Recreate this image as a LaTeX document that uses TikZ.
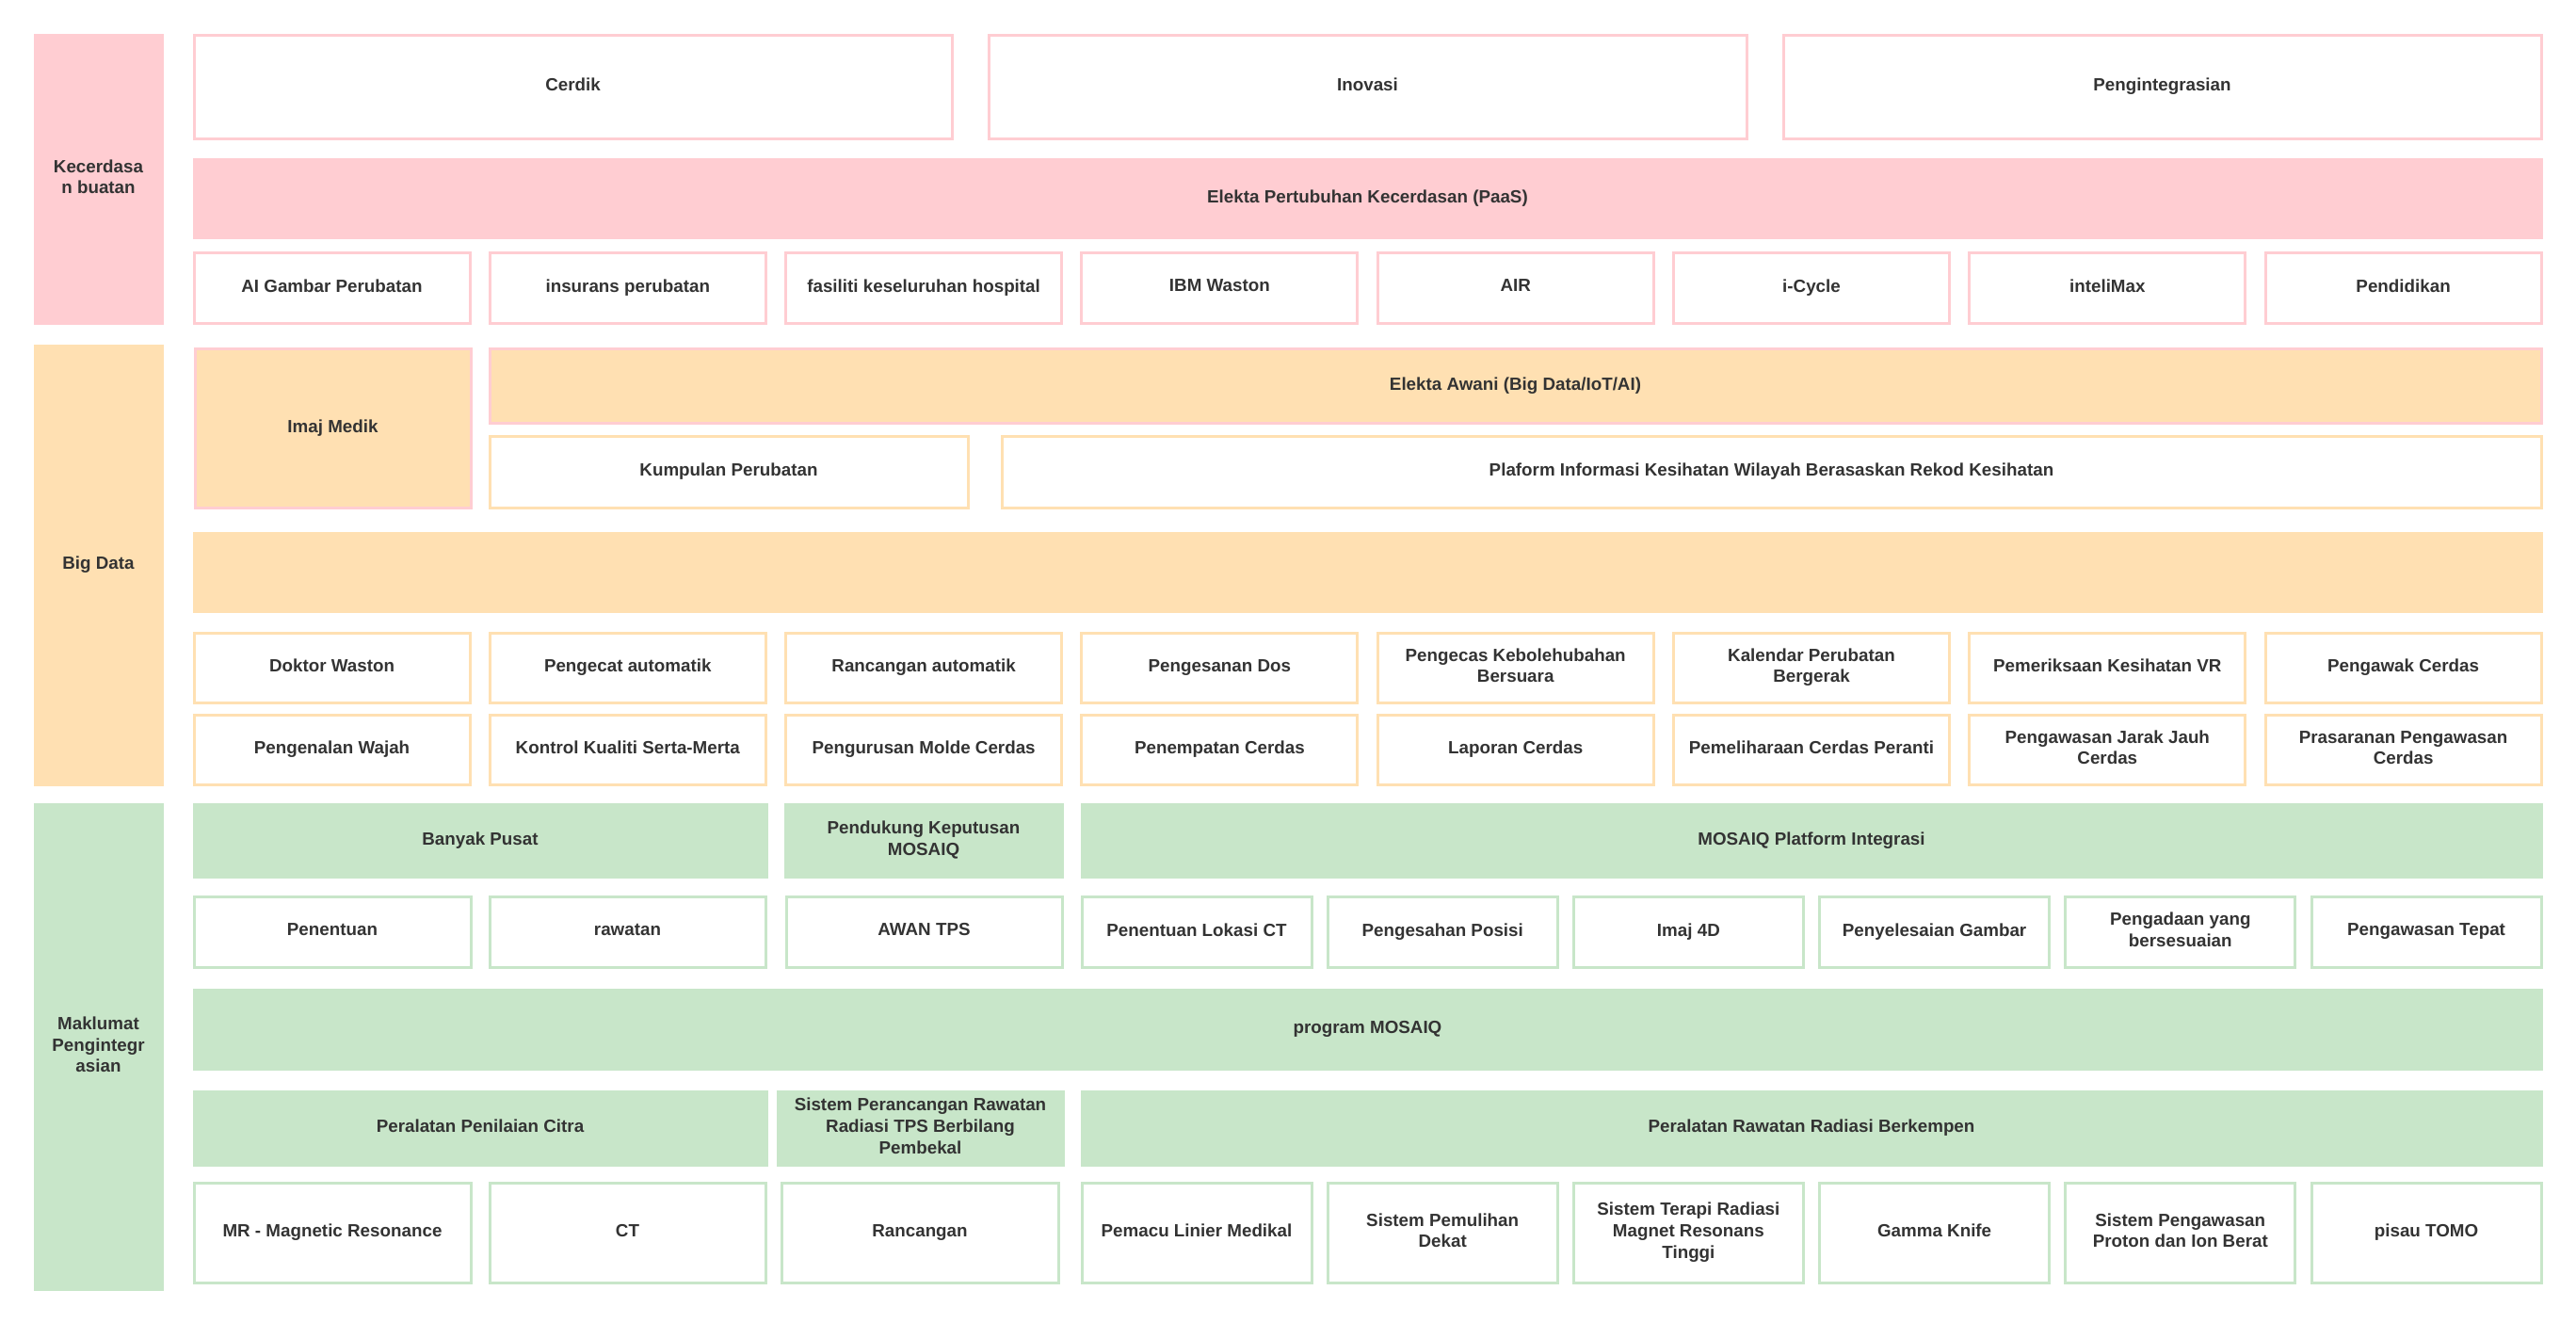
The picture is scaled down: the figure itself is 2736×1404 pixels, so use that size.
\documentclass[tikz,border=0pt]{standalone}
\usepackage{fontspec}
\setmainfont{Liberation Sans}
\definecolor{pk}{HTML}{FFCDD2}
\definecolor{og}{HTML}{FFE0B2}
\definecolor{gn}{HTML}{C8E6C9}
\definecolor{txt}{HTML}{333333}
\newcommand\mystrut{\rule[-2.3pt]{0pt}{9pt}}
\newcommand\bx[7]{%
  \node[#2, minimum width={((#5)-(#3))*0.5pt}, minimum height={((#6)-(#4))*0.5pt}]
    (#1) at ({((#3)+(#5))/2},{((#4)+(#6))/2}) {\mystrut#7\mystrut};}
\tikzset{
  base/.style={inner sep=0pt, outer sep=0pt, align=center, text=txt,
    font=\bfseries\fontsize{9.4}{11.3}\selectfont, line width=1.5pt},
  lab/.style={base, fill=#1, draw=#1},
  wb/.style={base, fill=white, draw=#1},
  fb/.style={base, fill=#1, draw=#1},
  ob/.style={base, fill=og, draw=pk},
}
\begin{document}
\begin{tikzpicture}[x=0.5pt,y=-0.5pt]
\fill[white] (0,0) rectangle (2736,1404);
\useasboundingbox (0,0) rectangle (2736,1404);
% ---------- Section 1: AI ----------
\bx{lab1}{lab=pk}{37}{37}{172}{343}{Kecerdasa\\n buatan}
\bx{cerdik}{wb=pk}{206}{37}{1011}{147}{Cerdik}
\bx{inovasi}{wb=pk}{1050}{37}{1855}{147}{Inovasi}
\bx{integ}{wb=pk}{1894}{37}{2699}{147}{Pengintegrasian}
\bx{paas}{fb=pk}{206}{169}{2699}{252}{Elekta Pertubuhan Kecerdasan (PaaS)}
\foreach \t [count=\i from 0] in {AI Gambar Perubatan, insurans perubatan, fasiliti keseluruhan hospital, IBM Waston, AIR, i-Cycle, inteliMax, Pendidikan}{
  \pgfmathsetmacro\xa{206+314.3*\i}
  \bx{a\i}{wb=pk}{\xa}{268}{\xa+293}{343}{\t}
}
% ---------- Section 2: Big Data ----------
\bx{lab2}{lab=og}{37}{367}{172}{833}{Big Data}
\bx{imaj}{ob}{207}{370}{500}{539}{Imaj Medik}
\bx{awani}{ob}{520}{370}{2699}{449}{Elekta Awani (Big Data/IoT/AI)}
\bx{kump}{wb=og}{520}{463}{1028}{539}{Kumpulan Perubatan}
\bx{plaf}{wb=og}{1064}{463}{2699}{539}{Plaform Informasi Kesihatan Wilayah Berasaskan Rekod Kesihatan}
\bx{bar}{fb=og}{206}{566}{2699}{649}{}
\foreach \t [count=\i from 0] in {Doktor Waston, Pengecat automatik, Rancangan automatik, Pengesanan Dos, {Pengecas Kebolehubahan\\Bersuara}, {Kalendar Perubatan\\Bergerak}, Pemeriksaan Kesihatan VR, Pengawak Cerdas}{
  \pgfmathsetmacro\xa{206+314.3*\i}
  \bx{b\i}{wb=og}{\xa}{672}{\xa+293}{746}{\t}
}
\foreach \t [count=\i from 0] in {Pengenalan Wajah, Kontrol Kualiti Serta-Merta, Pengurusan Molde Cerdas, Penempatan Cerdas, Laporan Cerdas, Pemeliharaan Cerdas Peranti, {Pengawasan Jarak Jauh\\Cerdas}, {Prasaranan Pengawasan\\Cerdas}}{
  \pgfmathsetmacro\xa{206+314.3*\i}
  \bx{c\i}{wb=og}{\xa}{759}{\xa+293}{833}{\t}
}
% ---------- Section 3: Integration ----------
\bx{lab3}{lab=gn}{37}{854}{172}{1369}{Maklumat\\Pengintegr\\asian}
\bx{banyak}{fb=gn}{206}{854}{814}{931}{Banyak Pusat}
\bx{pendk}{fb=gn}{834}{854}{1128}{931}{Pendukung Keputusan\\MOSAIQ}
\bx{mplat}{fb=gn}{1149}{854}{2699}{931}{MOSAIQ Platform Integrasi}
\bx{penent}{wb=gn}{206}{952}{500}{1027}{Penentuan}
\bx{rawat}{wb=gn}{520}{952}{813}{1027}{rawatan}
\bx{awan}{wb=gn}{835}{952}{1128}{1027}{AWAN TPS}
\foreach \t [count=\i from 0] in {Penentuan Lokasi CT, Pengesahan Posisi, Imaj 4D, Penyelesaian Gambar, {Pengadaan yang\\bersesuaian}, Pengawasan Tepat}{
  \pgfmathsetmacro\xa{1149+261.2*\i}
  \bx{d\i}{wb=gn}{\xa}{952}{\xa+244}{1027}{\t}
}
\bx{prog}{fb=gn}{206}{1051}{2699}{1135}{program MOSAIQ}
\bx{pcitra}{fb=gn}{206}{1159}{814}{1237}{Peralatan Penilaian Citra}
\bx{sperc}{fb=gn}{826}{1159}{1129}{1237}{Sistem Perancangan Rawatan\\Radiasi TPS Berbilang\\Pembekal}
\bx{prad}{fb=gn}{1149}{1159}{2699}{1237}{Peralatan Rawatan Radiasi Berkempen}
\bx{mr}{wb=gn}{206}{1256}{500}{1362}{MR - Magnetic Resonance}
\bx{ct}{wb=gn}{520}{1256}{813}{1362}{CT}
\bx{ranc}{wb=gn}{830}{1256}{1124}{1362}{Rancangan}
\foreach \t [count=\i from 0] in {Pemacu Linier Medikal, {Sistem Pemulihan\\Dekat}, {Sistem Terapi Radiasi\\Magnet Resonans\\Tinggi}, Gamma Knife, {Sistem Pengawasan\\Proton dan Ion Berat}, pisau TOMO}{
  \pgfmathsetmacro\xa{1149+261.2*\i}
  \bx{e\i}{wb=gn}{\xa}{1256}{\xa+244}{1362}{\t}
}
\end{tikzpicture}
\end{document}
